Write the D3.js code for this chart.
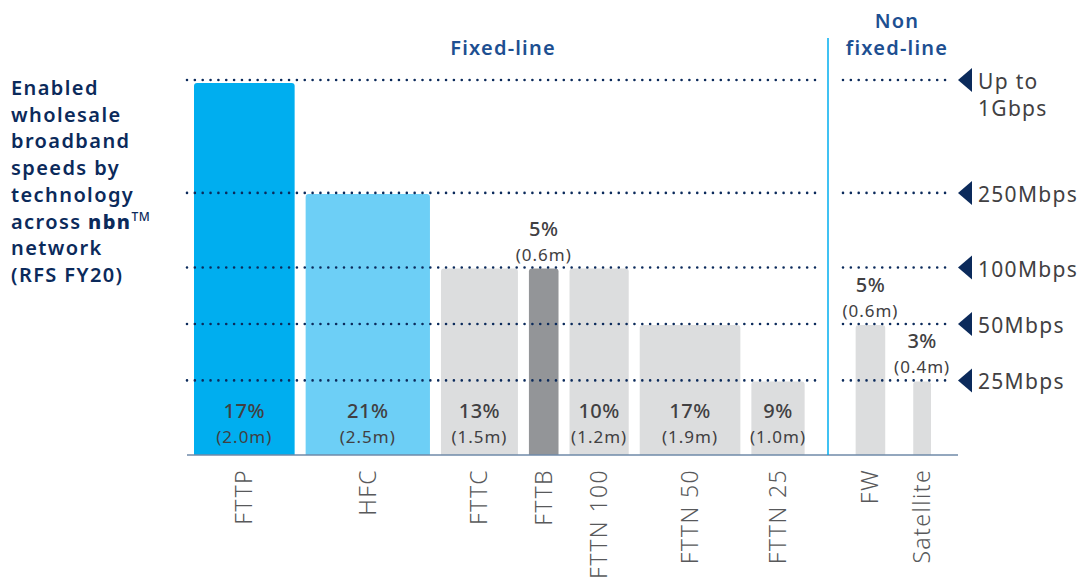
<!DOCTYPE html>
<html>
<head>
<meta charset="utf-8">
<script src="https://cdn.jsdelivr.net/npm/d3@7"></script>
<style>
  html, body { margin: 0; padding: 0; background: #fff; }
  svg { display: block; font-family: "Noto Sans", "DejaVu Sans", sans-serif; }
</style>
</head>
<body>
<svg id="chart" width="1085" height="581"></svg>
<script>
// Technologies on the nbn network, with share of premises and speed tier
const technologies = ["FTTP", "HFC", "FTTC", "FTTB", "FTTN 100", "FTTN 50", "FTTN 25", "FW", "Satellite"];
const groups       = ["fixed", "fixed", "fixed", "fixed", "fixed", "fixed", "fixed", "nonfixed", "nonfixed"];
const sharePct     = [17, 21, 13, 5, 10, 17, 9, 5, 3];
const premisesM    = ["2.0", "2.5", "1.5", "0.6", "1.2", "1.9", "1.0", "0.6", "0.4"];
const maxSpeedMbps = [1000, 250, 100, 100, 100, 50, 25, 50, 25];

// Speed tiers marked on the right-hand axis
const tierSpeeds = [1000, 250, 100, 50, 25];
const tierLabels = [["Up to", "1Gbps"], ["250Mbps"], ["100Mbps"], ["50Mbps"], ["25Mbps"]];

const titleLines = ["Enabled", "wholesale", "broadband", "speeds by", "technology", "across", "network", "(RFS FY20)"];

const colors = {
  FTTP: "#00aeef", HFC: "#6dcff6", FTTB: "#939598", other: "#dcddde"
};
const navy = "#0b2a5b";
const headBlue = "#1d4f91";
const textGrey = "#414042";

const svg = d3.select("#chart");

// Speed axis is logarithmic
const y = d3.scaleLog().domain([10, 1000]).range([455, 80]);
// Bar widths proportional to share of premises
const w = d3.scaleLinear().domain([0, 1]).range([0, 5.92]);

// Horizontal layout: fixed-line bars then non fixed-line bars
const layout = [];
let cursor = 194;
technologies.forEach((t, i) => {
  if (i > 0) cursor += (groups[i] !== groups[i - 1]) ? 51 : (groups[i] === "nonfixed" ? 28 : 11);
  const width = w(sharePct[i]);
  layout.push({ name: t, x: cursor, width, group: groups[i], pct: sharePct[i], m: premisesM[i], speed: maxSpeedMbps[i] });
  cursor += width;
});

const baseY = y(10);

// Bars with slightly rounded tops
function roundedTop(x, yTop, wd, h, r) {
  return `M${x},${yTop + h}V${yTop + r}Q${x},${yTop} ${x + r},${yTop}H${x + wd - r}Q${x + wd},${yTop} ${x + wd},${yTop + r}V${yTop + h}Z`;
}
svg.append("g").selectAll("path").data(layout).join("path")
  .attr("d", d => {
    const top = y(d.speed) + (d.speed === 1000 ? 3 : 1);
    return roundedTop(d.x, top, d.width, baseY - top, 3);
  })
  .attr("fill", d => colors[d.name] || colors.other);

// Dotted tier lines
const fixedEnd = 816, divX = 828, nfStart = 843, nfEnd = 952;
const lines = svg.append("g");
tierSpeeds.forEach(s => {
  [[187, fixedEnd], [nfStart, nfEnd]].forEach(([x1, x2]) => {
    lines.append("line")
      .attr("x1", x1).attr("x2", x2).attr("y1", y(s)).attr("y2", y(s))
      .attr("stroke", navy).attr("stroke-width", 2.6)
      .attr("stroke-linecap", "round").attr("stroke-dasharray", "0 7.85");
  });
  // pointer triangle
  lines.append("path")
    .attr("d", `M958,${y(s)}L972,${y(s) - 12}L972,${y(s) + 12}Z`)
    .attr("fill", navy);
});

// Tier labels
tierSpeeds.forEach((s, i) => {
  const t = svg.append("text").attr("x", 978).attr("y", y(s) + 9)
    .attr("font-size", 21).attr("letter-spacing", 1.3).attr("fill", textGrey);
  tierLabels[i].forEach((ln, k) => {
    t.append("tspan").attr("x", 978).attr("dy", k === 0 ? 0 : 27).text(ln);
  });
});

// Baseline and group divider
svg.append("line").attr("x1", 187).attr("x2", 958).attr("y1", baseY).attr("y2", baseY)
  .attr("stroke", "#6f8aa8").attr("stroke-width", 1.5);
svg.append("line").attr("x1", divX).attr("x2", divX).attr("y1", 38).attr("y2", baseY)
  .attr("stroke", "#00aeef").attr("stroke-width", 1.5);

// Value labels: inside tall bars, above short ones
const vals = svg.append("g").attr("text-anchor", "middle").attr("fill", textGrey);
layout.forEach(d => {
  const cx = d.x + d.width / 2;
  const inside = d.width >= 45;
  const pctY = inside ? 418 : y(d.speed) - 32;
  const mY = inside ? 443 : y(d.speed) - 7;
  vals.append("text").attr("x", cx).attr("y", pctY)
    .attr("font-size", 20).attr("font-weight", 500).attr("letter-spacing", 0.5).text(d.pct + "%");
  vals.append("text").attr("x", cx).attr("y", mY)
    .attr("font-size", 17).attr("font-weight", 400).attr("letter-spacing", 1).text("(" + d.m + "m)");
});

// Category labels, rotated
svg.append("g").selectAll("text").data(layout).join("text")
  .attr("transform", d => `translate(${d.x + d.width / 2 + 8},469) rotate(-90)`)
  .attr("text-anchor", "end")
  .attr("font-size", 23).attr("font-weight", 300).attr("letter-spacing", 1.4).attr("fill", "#58595b")
  .text(d => d.name);

// Group headers
svg.append("text").attr("x", 503).attr("y", 55).attr("text-anchor", "middle")
  .attr("font-size", 20).attr("font-weight", 600).attr("letter-spacing", 1.2).attr("fill", headBlue).text("Fixed-line");
const nf = svg.append("text").attr("x", 897).attr("y", 28).attr("text-anchor", "middle")
  .attr("font-size", 20).attr("font-weight", 600).attr("letter-spacing", 1.2).attr("fill", headBlue);
nf.append("tspan").attr("x", 897).text("Non");
nf.append("tspan").attr("x", 897).attr("dy", 27).text("fixed-line");

// Chart title on the left, one text per line
const title = svg.append("g").attr("font-size", 20).attr("font-weight", 600)
  .attr("letter-spacing", 1.4).attr("fill", navy);
titleLines.forEach((ln, i) => {
  const t = title.append("text").attr("x", 11).attr("y", 95 + i * 26.7);
  t.append("tspan").text(ln);
  if (ln === "across") {
    t.append("tspan").attr("font-weight", 800).text(" nbn");
    t.append("tspan").attr("font-size", 12).attr("font-weight", 500)
      .attr("letter-spacing", 0.5).attr("dy", -8).text("TM");
  }
});
</script>
</body>
</html>
